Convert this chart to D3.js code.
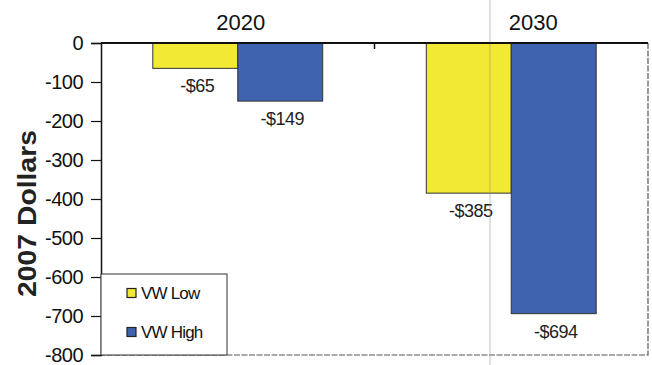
<!DOCTYPE html>
<html lang="en">
<head>
    <meta charset="UTF-8">
    <title>VW Low / VW High</title>
    <script src="https://cdn.jsdelivr.net/npm/d3@7"></script>
    <style>
        body { margin: 0; background: #fff; }
        svg { display: block; font-family: Arial, "Liberation Sans", sans-serif; }
    </style>
</head>
<body>
    <div id="chart"></div>

    <script>
        // Data
        const years = ['2020', '2030'];
        const series = ['VW Low', 'VW High'];
        const vwLow = [-65, -385];
        const vwHigh = [-149, -694];
        const yTicks = [0, -100, -200, -300, -400, -500, -600, -700, -800];
        const colors = ['#f1e932', '#3f63ae'];

        const width = 652, height = 365;
        const plot = { left: 101, right: 648, top: 43, bottom: 355 };

        const svg = d3.select('#chart').append('svg')
            .attr('width', width)
            .attr('height', height);

        const x0 = d3.scaleBand()
            .domain(years)
            .range([plot.left, plot.right])
            .paddingInner(0)
            .paddingOuter(0);

        const x1 = d3.scaleBand()
            .domain(series)
            .range([0, x0.bandwidth()])
            .paddingInner(0)
            .paddingOuter(0.61);

        const y = d3.scaleLinear()
            .domain([-800, 0])
            .range([plot.bottom, plot.top]);

        // frame right / bottom (dashed look)
        svg.append('path')
            .attr('d', `M${plot.right},${plot.top}V${plot.bottom}H${plot.left}`)
            .attr('fill', 'none')
            .attr('stroke', '#555')
            .attr('stroke-width', 1.2)
            .attr('stroke-dasharray', '6,1.5');

        const rows = years.map((yr, i) => ({ year: yr, values: [vwLow[i], vwHigh[i]] }));

        const groups = svg.append('g')
            .selectAll('g')
            .data(rows)
            .enter().append('g')
            .attr('transform', d => `translate(${x0(d.year)},0)`);

        groups.selectAll('rect')
            .data(d => d.values.map((v, j) => ({ key: series[j], value: v, j })))
            .enter().append('rect')
            .attr('x', d => x1(d.key))
            .attr('y', y(0))
            .attr('width', x1.bandwidth())
            .attr('height', d => y(d.value) - y(0))
            .attr('fill', d => colors[d.j])
            .attr('stroke', '#333')
            .attr('stroke-width', 1);

        // scan artefact line (shows through the yellow bar)
        svg.append('line')
            .attr('x1', 490).attr('x2', 490)
            .attr('y1', 0).attr('y2', height)
            .attr('stroke', '#999')
            .attr('stroke-opacity', 0.6)
            .attr('stroke-width', 1);

        groups.selectAll('text.val')
            .data(d => d.values.map((v, j) => ({ key: series[j], value: v })))
            .enter().append('text')
            .attr('class', 'val')
            .attr('x', d => x1(d.key) + x1.bandwidth() / 2 + 2)
            .attr('y', d => y(d.value) + 24)
            .attr('text-anchor', 'middle')
            .attr('font-size', 18)
            .attr('letter-spacing', -0.5)
            .attr('fill', '#222')
            .text(d => '-$' + Math.abs(d.value));

        // year labels on top
        svg.append('g')
            .selectAll('text')
            .data(years)
            .enter().append('text')
            .attr('x', (d, i) => x0(d) + x0.bandwidth() / 2 + (i === 0 ? 3 : 22))
            .attr('y', 30)
            .attr('text-anchor', 'middle')
            .attr('font-size', 22)
            .attr('fill', '#111')
            .text(d => d);

        // y axis
        const yAxis = svg.append('g')
            .attr('transform', `translate(${plot.left},0)`)
            .call(d3.axisLeft(y).tickValues(yTicks).tickSize(10).tickPadding(8).tickFormat(d3.format('d')));
        yAxis.select('.domain').attr('stroke', '#111').attr('stroke-width', 1.5);
        yAxis.selectAll('.tick line').attr('stroke', '#111').attr('stroke-width', 1.2);
        yAxis.selectAll('.tick text')
            .attr('font-size', 20)
            .attr('letter-spacing', -0.5)
            .attr('fill', '#111')
            .attr('font-family', 'Arial, "Liberation Sans", sans-serif')
            .text(d => d < 0 ? '-' + Math.abs(d) : d);

        // zero line / top axis
        svg.append('line')
            .attr('x1', plot.left).attr('x2', plot.right)
            .attr('y1', y(0)).attr('y2', y(0))
            .attr('stroke', '#111')
            .attr('stroke-width', 2);
        svg.append('line')
            .attr('x1', x0('2030')).attr('x2', x0('2030'))
            .attr('y1', y(0)).attr('y2', y(0) + 6)
            .attr('stroke', '#111')
            .attr('stroke-width', 1.5);

        // y title
        svg.append('text')
            .attr('transform', `translate(36,${(130 + 297) / 2}) rotate(-90)`)
            .attr('text-anchor', 'middle')
            .attr('font-size', 25)
            .attr('font-weight', 'bold')
            .attr('fill', '#222')
            .attr('textLength', 167)
            .attr('lengthAdjust', 'spacingAndGlyphs')
            .text('2007 Dollars');

        // legend
        const legend = svg.append('g');
        legend.append('rect')
            .attr('x', plot.left).attr('y', 274)
            .attr('width', 126).attr('height', plot.bottom - 274)
            .attr('fill', '#fff')
            .attr('stroke', '#333')
            .attr('stroke-width', 1);
        const items = legend.selectAll('g')
            .data(series)
            .enter().append('g')
            .attr('transform', (d, i) => `translate(127,${293 + i * 39})`);
        items.append('rect')
            .attr('x', 0).attr('y', -4.5)
            .attr('width', 9).attr('height', 9)
            .attr('fill', (d, i) => colors[i])
            .attr('stroke', '#222')
            .attr('stroke-width', 1.2);
        items.append('text')
            .attr('x', 14).attr('y', 6)
            .attr('font-size', 17)
            .attr('letter-spacing', -0.8)
            .attr('fill', '#111')
            .text(d => d);
    </script>
</body>
</html>
